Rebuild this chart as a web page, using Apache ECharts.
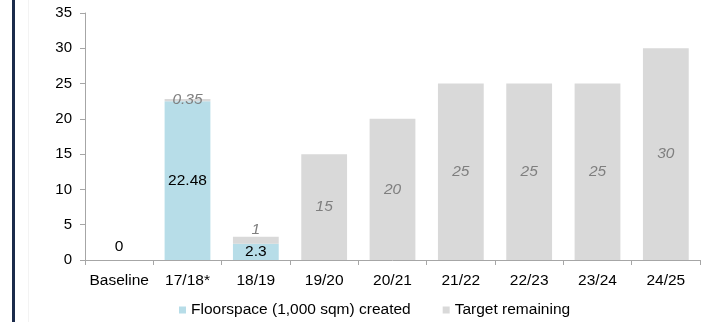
<!DOCTYPE html>
<html><head><meta charset="utf-8">
<script src="https://cdn.jsdelivr.net/npm/echarts@6/dist/echarts.min.js"></script>
<style>html,body{margin:0;padding:0;background:#fff}#c{width:703px;height:322px}</style>
</head><body><div id="c"></div>
<script>
var categories = ['Baseline','17/18*','18/19','19/20','20/21','21/22','22/23','23/24','24/25'];
var floorspace = [0, 22.48, 2.3, null, null, null, null, null, null];
var targetRemaining = [null, 0.35, 1, 15, 20, 25, 25, 25, 30];
var yTicks = [0,5,10,15,20,25,30,35];
var seriesNames = ['Floorspace (1,000 sqm) created','Target remaining'];

var font = '"Liberation Sans", Arial, sans-serif';
var chart = echarts.init(document.getElementById('c'), null, {renderer:'canvas'});
var fsData = floorspace.map(function(v){
  if (v === 0) return {value:v, label:{position:'top', distance:5}};
  return v;
});
var trData = targetRemaining.map(function(v){
  if (v !== null && v < 2 && v > 0.5) return {value:v, label:{position:'top', distance:-1}};
  return v;
});
chart.setOption({
  animation:false,
  grid:{left:85, right:3, top:13, bottom:62},
  legend:{
    left:174, top:297, itemWidth:7, itemHeight:7, itemGap:32, icon:'rect',
    textStyle:{fontFamily:font, fontSize:15.5, color:'#000'},
    data:seriesNames
  },
  graphic:[
    {type:'rect', shape:{x:12, y:0, width:3, height:322}, style:{fill:'#1b2b4b'}},
    {type:'rect', shape:{x:28, y:0, width:1, height:322}, style:{fill:'#f3f3f3'}}
  ],
  xAxis:{
    type:'category', data:categories,
    axisLine:{lineStyle:{color:'#a6a6a6', width:1}},
    axisTick:{show:true, length:5, lineStyle:{color:'#a6a6a6'}},
    axisLabel:{fontFamily:font, fontSize:15.5, color:'#000', margin:13, interval:0}
  },
  yAxis:{
    type:'value', min:yTicks[0], max:yTicks[yTicks.length-1], interval:5,
    axisLine:{show:true, lineStyle:{color:'#a6a6a6'}},
    axisTick:{show:true, length:5, lineStyle:{color:'#a6a6a6'}},
    splitLine:{show:false},
    axisLabel:{fontFamily:font, fontSize:15, color:'#000', margin:13}
  },
  series:[
    {name:seriesNames[0], type:'bar', stack:'a', data:fsData, barCategoryGap:'33%',
     itemStyle:{color:'#b7dde8'},
     label:{show:true, position:'inside', fontFamily:font, fontSize:15.5, color:'#000',
       formatter:function(p){return p.value==null?'':String(p.value);}}},
    {name:seriesNames[1], type:'bar', stack:'a', data:trData,
     itemStyle:{color:'#d9d9d9'},
     label:{show:true, position:'inside', fontFamily:font, fontSize:15.5, fontStyle:'italic', color:'#7f7f7f',
       formatter:function(p){return p.value==null?'':String(p.value);}}}
  ]
});
</script></body></html>
